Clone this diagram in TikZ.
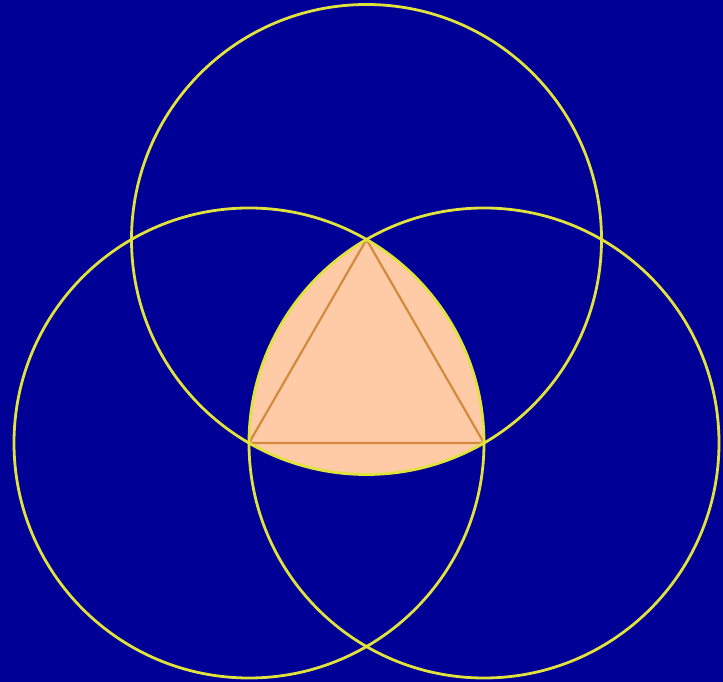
\documentclass[tikz,border=0pt]{standalone}
\usepackage{tikz}
\definecolor{bgnavy}{HTML}{000096}
\definecolor{ringyellow}{HTML}{E2E23C}
\definecolor{lensfill}{HTML}{FFCBA6}
\definecolor{edgeorange}{HTML}{D38A3C}
\tikzset{
  ring/.style={draw=ringyellow, line width=2.8pt},
  lens/.style={fill=lensfill},
  side/.style={draw=edgeorange, line width=2.2pt, line join=round},
}
\begin{document}
\begin{tikzpicture}[x=1pt,y=1pt]
  % backdrop
  \fill[bgnavy] (0,0) rectangle (723,682);
  \useasboundingbox (0,0) rectangle (723,682);
  % the three vertices
  \coordinate (A) at (249,239);
  \coordinate (B) at (484,239);
  \coordinate (C) at (366.5,442.5);
  % reuleaux triangle
  \path[lens] (B) arc[start angle=0, end angle=60, radius=235]
    arc[start angle=120, end angle=180, radius=235]
    arc[start angle=240, end angle=300, radius=235] -- cycle;
  \draw[side] (A) -- (B) -- (C) -- cycle;
  % circles round each vertex
  \foreach \v in {A,B,C}
    \draw[ring] (\v) circle[radius=235];
\end{tikzpicture}
\end{document}
